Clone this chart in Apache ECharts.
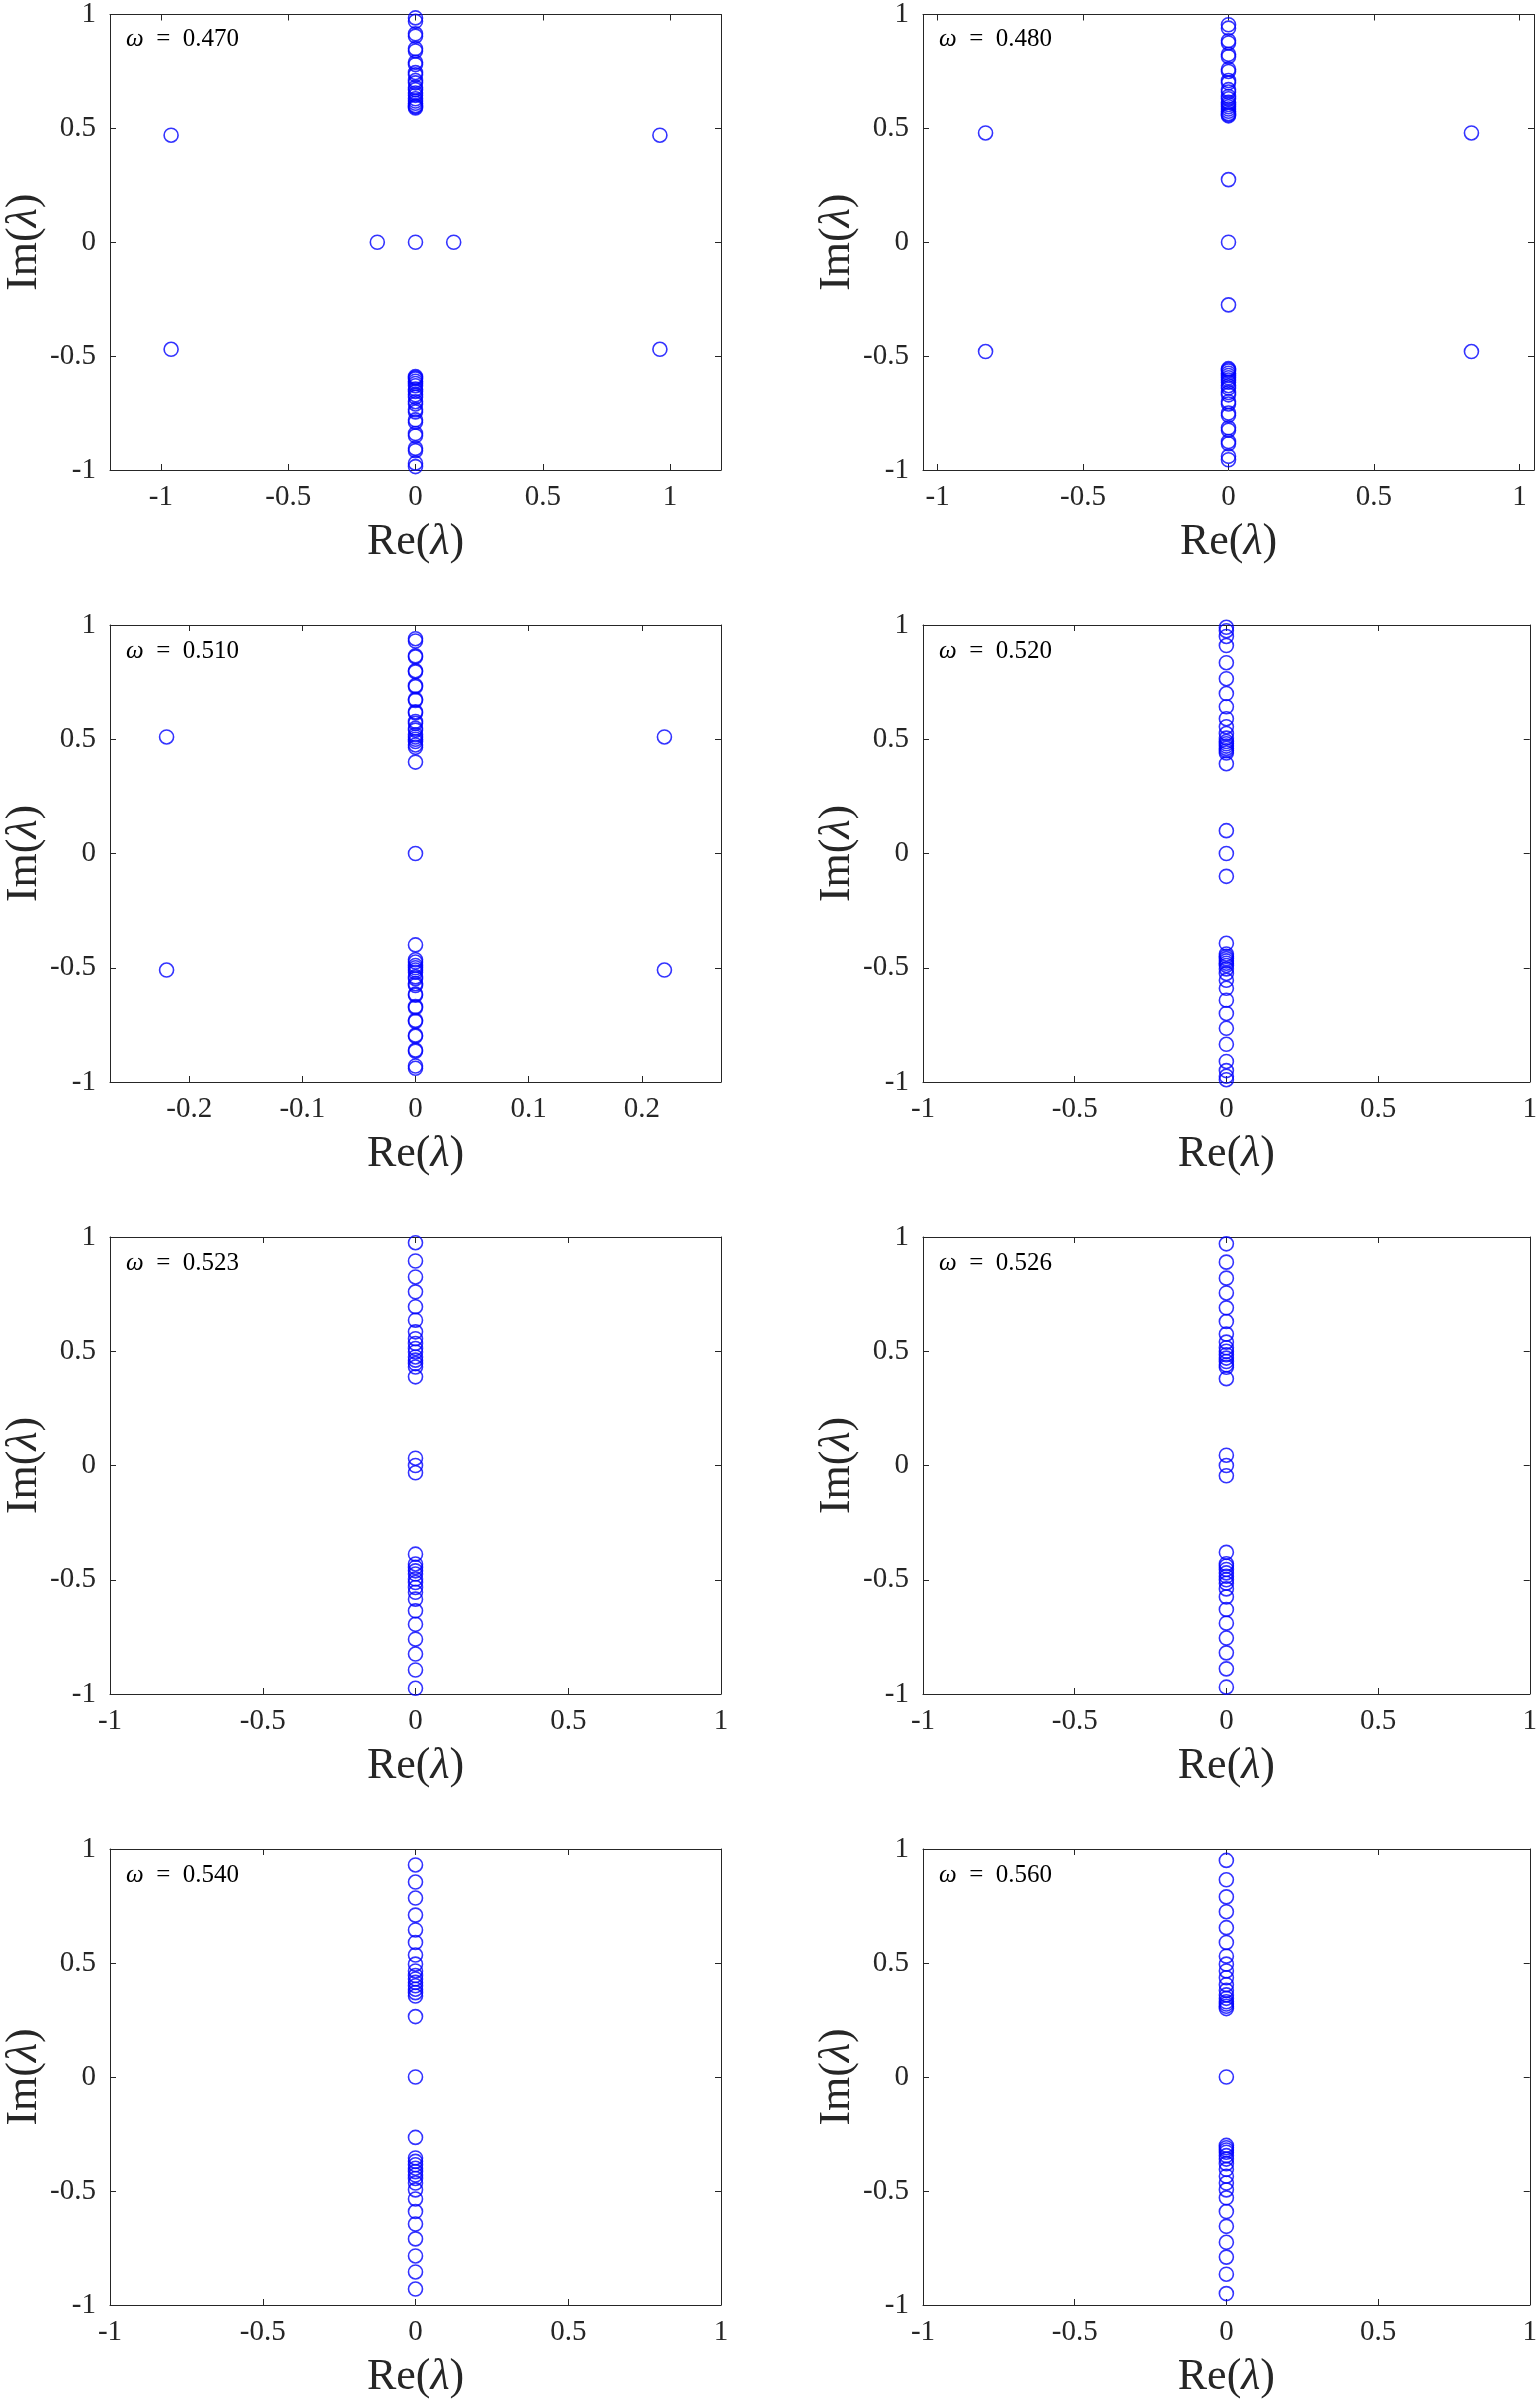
<!DOCTYPE html>
<html>
<head>
<meta charset="utf-8">
<script src="https://cdn.jsdelivr.net/npm/echarts@6/dist/echarts.min.js"></script>
<style>
  html, body { margin: 0; padding: 0; background: #fff; }
  #chart { width: 1540px; height: 2400px; }
</style>
</head>
<body>
<div id="chart"></div>
<script>
// omega of each panel
const omegaLabels = ['0.470', '0.480', '0.510', '0.520', '0.523', '0.526', '0.540', '0.560'];

// x limits and ticks
const xRanges = [[-1.2, 1.2], [-1.05, 1.05], [-0.27, 0.27], [-1, 1], [-1, 1], [-1, 1], [-1, 1], [-1, 1]];
const xTicksWide = [-1, -0.5, 0, 0.5, 1];
const xTicksNarrow = [-0.2, -0.1, 0, 0.1, 0.2];
const yTicks = [-1, -0.5, 0, 0.5, 1];

// Im(lambda) of eigenvalues sitting on Re = 0
const im470 = [0.985, 0.97, 0.915, 0.905, 0.85, 0.84, 0.79, 0.78, 0.745, 0.735, 0.71, 0.70, 0.68, 0.67, 0.655, 0.645, 0.63, 0.62, 0.61, 0.60, 0.595, 0.59,
  0,
  -0.59, -0.595, -0.60, -0.61, -0.62, -0.63, -0.645, -0.655, -0.67, -0.68, -0.70, -0.71, -0.735, -0.745, -0.78, -0.79, -0.84, -0.85, -0.905, -0.915, -0.97, -0.985];
const im480 = [0.955, 0.94, 0.885, 0.875, 0.825, 0.815, 0.76, 0.75, 0.71, 0.70, 0.67, 0.66, 0.64, 0.63, 0.615, 0.605, 0.595, 0.585, 0.575, 0.565, 0.56, 0.555,
  0.275, 0, -0.275,
  -0.555, -0.56, -0.565, -0.575, -0.585, -0.595, -0.605, -0.615, -0.63, -0.64, -0.66, -0.67, -0.70, -0.71, -0.75, -0.76, -0.815, -0.825, -0.875, -0.885, -0.94, -0.955];
const im510 = [0.94, 0.93, 0.865, 0.86, 0.80, 0.795, 0.735, 0.73, 0.675, 0.67, 0.62, 0.615, 0.578, 0.57, 0.548, 0.54, 0.52, 0.51, 0.50, 0.49, 0.475, 0.465, 0.40,
  0,
  -0.40, -0.465, -0.475, -0.49, -0.50, -0.51, -0.52, -0.54, -0.548, -0.57, -0.578, -0.615, -0.62, -0.67, -0.675, -0.73, -0.735, -0.795, -0.80, -0.86, -0.865, -0.93, -0.94];
const im520 = [0.99, 0.975, 0.95, 0.91, 0.835, 0.765, 0.70, 0.642, 0.59, 0.555, 0.525, 0.505, 0.49, 0.48, 0.47, 0.46, 0.45, 0.44, 0.393,
  0.1, 0, -0.1,
  -0.393, -0.44, -0.45, -0.46, -0.47, -0.48, -0.49, -0.505, -0.525, -0.555, -0.59, -0.642, -0.70, -0.765, -0.835, -0.91, -0.95, -0.975, -0.99];
const im523 = [0.975, 0.895, 0.825, 0.76, 0.695, 0.636, 0.585, 0.555, 0.534, 0.512, 0.497, 0.475, 0.461, 0.446, 0.431, 0.388,
  0.032, 0, -0.032,
  -0.388, -0.431, -0.446, -0.461, -0.475, -0.497, -0.512, -0.534, -0.555, -0.585, -0.636, -0.695, -0.76, -0.825, -0.895, -0.975];
const im526 = [0.97, 0.89, 0.82, 0.755, 0.69, 0.63, 0.575, 0.54, 0.515, 0.50, 0.485, 0.47, 0.455, 0.44, 0.43, 0.38,
  0.045, 0, -0.045,
  -0.38, -0.43, -0.44, -0.455, -0.47, -0.485, -0.50, -0.515, -0.54, -0.575, -0.63, -0.69, -0.755, -0.82, -0.89, -0.97];
const im540 = [0.93, 0.855, 0.785, 0.71, 0.645, 0.59, 0.535, 0.495, 0.465, 0.445, 0.43, 0.415, 0.40, 0.385, 0.37, 0.355, 0.265,
  0,
  -0.265, -0.355, -0.37, -0.385, -0.40, -0.415, -0.43, -0.445, -0.465, -0.495, -0.535, -0.59, -0.645, -0.71, -0.785, -0.855, -0.93];
const im560 = [0.95, 0.865, 0.79, 0.725, 0.655, 0.59, 0.53, 0.495, 0.465, 0.435, 0.405, 0.38, 0.36, 0.345, 0.33, 0.32, 0.31, 0.30,
  0,
  -0.30, -0.31, -0.32, -0.33, -0.345, -0.36, -0.38, -0.405, -0.435, -0.465, -0.495, -0.53, -0.59, -0.655, -0.725, -0.79, -0.865, -0.95];

// eigenvalues off the imaginary axis, [Re, Im]
const off470 = [[-0.96, 0.47], [0.96, 0.47], [-0.96, -0.47], [0.96, -0.47], [-0.15, 0], [0.15, 0]];
const off480 = [[-0.835, 0.48], [0.835, 0.48], [-0.835, -0.48], [0.835, -0.48]];
const off510 = [[-0.22, 0.51], [0.22, 0.51], [-0.22, -0.51], [0.22, -0.51]];

const imCols = [im470, im480, im510, im520, im523, im526, im540, im560];
const offPts = [off470, off480, off510, [], [], [], [], []];

const FONT = 'Liberation Serif';
const AXIS_COLOR = '#262626';
const colLeft = [110, 923];
const rowTop = [13, 625, 1237, 1849];
const plotW = 611, plotH = 457;

let grids = [], xAxes = [], yAxes = [], series = [], titles = [];

function nameStyle() {
  return { fontFamily: FONT, fontSize: 44, color: '#262626',
    rich: { l: { fontFamily: FONT, fontSize: 44, fontStyle: 'italic', color: '#262626' } } };
}

omegaLabels.forEach(function (om, i) {
  let left = colLeft[i % 2], top = rowTop[Math.floor(i / 2)];
  let xr = xRanges[i];
  let xt = (i === 2) ? xTicksNarrow : xTicksWide;

  grids.push({ left: left, top: top, width: plotW, height: plotH, show: false });

  // bottom x axis with labels
  xAxes.push({
    type: 'value', gridIndex: i, position: 'bottom', min: xr[0], max: xr[1],
    name: 'Re({l|λ})', nameLocation: 'middle', nameGap: 50, nameTextStyle: nameStyle(),
    axisLine: { show: true, onZero: false, lineStyle: { color: AXIS_COLOR, width: 1 } },
    axisTick: { show: true, inside: true, length: 6, customValues: xt, lineStyle: { color: AXIS_COLOR } },
    axisLabel: { show: true, customValues: xt, margin: 13, fontFamily: FONT, fontSize: 29, color: '#262626' },
    splitLine: { show: false }
  });
  // top x axis, ticks only
  xAxes.push({
    type: 'value', gridIndex: i, position: 'top', min: xr[0], max: xr[1],
    axisLine: { show: true, onZero: false, lineStyle: { color: AXIS_COLOR, width: 1 } },
    axisTick: { show: true, inside: true, length: 6, customValues: xt, lineStyle: { color: AXIS_COLOR } },
    axisLabel: { show: false },
    splitLine: { show: false }
  });
  // left y axis
  yAxes.push({
    type: 'value', gridIndex: i, position: 'left', min: -1, max: 1,
    name: 'Im({l|λ})', nameLocation: 'middle', nameGap: 62, nameRotate: 90, nameTextStyle: nameStyle(),
    axisLine: { show: true, onZero: false, lineStyle: { color: AXIS_COLOR, width: 1 } },
    axisTick: { show: true, inside: true, length: 6, customValues: yTicks, lineStyle: { color: AXIS_COLOR } },
    axisLabel: { show: true, customValues: yTicks, margin: 14, fontFamily: FONT, fontSize: 29, color: '#262626' },
    splitLine: { show: false }
  });
  // right y axis, ticks only
  yAxes.push({
    type: 'value', gridIndex: i, position: 'right', min: -1, max: 1,
    axisLine: { show: true, onZero: false, lineStyle: { color: AXIS_COLOR, width: 1 } },
    axisTick: { show: true, inside: true, length: 6, customValues: yTicks, lineStyle: { color: AXIS_COLOR } },
    axisLabel: { show: false },
    splitLine: { show: false }
  });

  let pts = imCols[i].map(function (v) { return [0, v]; }).concat(offPts[i]);
  series.push({
    type: 'scatter', xAxisIndex: 2 * i, yAxisIndex: 2 * i, data: pts,
    symbol: 'circle', symbolSize: 14,
    itemStyle: { color: 'rgba(0,0,0,0)', borderColor: '#0000ff', borderWidth: 1.6 },
    emphasis: { disabled: true }, silent: true
  });

  titles.push({
    text: '{w|ω}  =  ' + om, left: left + 11, top: top + 9,
    textStyle: { fontFamily: FONT, fontSize: 25, fontWeight: 'normal', color: '#000',
      rich: { w: { fontFamily: FONT, fontSize: 25, fontStyle: 'italic', color: '#000' } } }
  });
});

let option = {
  animation: false,
  backgroundColor: '#fff',
  title: titles,
  grid: grids,
  xAxis: xAxes,
  yAxis: yAxes,
  series: series
};
echarts.init(document.getElementById('chart')).setOption(option);
</script>
</body>
</html>
